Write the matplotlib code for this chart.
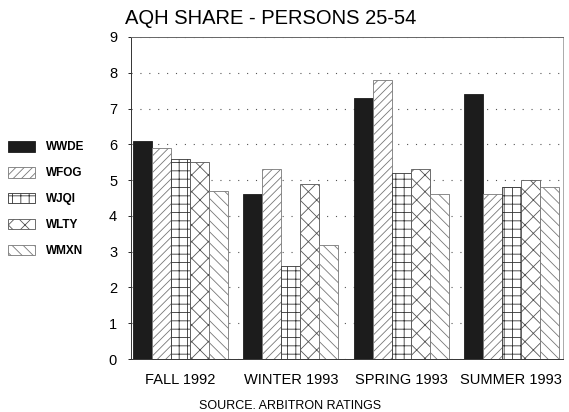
import matplotlib
matplotlib.use("Agg")
import matplotlib.pyplot as plt
import numpy as np
from matplotlib.patches import Patch

plt.rcParams['font.family'] = ['Liberation Sans', 'DejaVu Sans']
plt.rcParams['hatch.linewidth'] = 0.6

seasons = ["FALL 1992", "WINTER 1993", "SPRING 1993", "SUMMER 1993"]
stations = ["WWDE", "WFOG", "WJQI", "WLTY", "WMXN"]
wwde = [6.1, 4.6, 7.3, 7.4]
wfog = [5.9, 5.3, 7.8, 4.6]
wjqi = [5.6, 2.6, 5.2, 4.8]
wlty = [5.5, 4.9, 5.3, 5.0]
wmxn = [4.7, 3.2, 4.6, 4.8]
series = [wwde, wfog, wjqi, wlty, wmxn]
yticks = list(range(0, 10))

hatches = [None, '////', '++', 'xx', '\\\\\\']
faces = ['#1c1c1c', 'white', 'white', 'white', 'white']
hatch_colors = ['#1c1c1c', '#777777', '#333333', '#555555', '#777777']

fig = plt.figure(figsize=(5.69, 4.12), dpi=100)
ax = fig.add_axes([0.2302, 0.1286, 0.7593, 0.7816])

x = np.arange(len(seasons))
w = 0.172
for i, (vals, h, fc, hc) in enumerate(zip(series, hatches, faces, hatch_colors)):
    pos = x + (i - 2) * w
    ax.bar(pos, vals, width=w, color=fc, edgecolor=hc, hatch=h,
           linewidth=0.6, zorder=2)

ax.set_xlim(-0.449, 3.468)
ax.set_ylim(0, 9)
ax.set_yticks(yticks)
ax.set_yticklabels([str(t) for t in yticks], fontsize=10.5)
ax.set_xticks(x)
ax.set_xticklabels(seasons, fontsize=10.5)
ax.tick_params(axis='x', length=0, pad=10)
ax.tick_params(axis='y', length=2, direction='out', pad=8, width=0.6)

ax.yaxis.grid(True, linestyle=(0, (1, 7)), color='#555555', linewidth=0.8, zorder=0)
ax.set_axisbelow(True)
for s in ['left', 'bottom', 'top', 'right']:
    ax.spines[s].set_linewidth(0.7)
    ax.spines[s].set_color('#333333')
ax.spines['right'].set_color('#aaaaaa')
ax.spines['top'].set_color('#666666')

fig.text(125 / 569, 1 - 19 / 412, "AQH SHARE - PERSONS 25-54", fontsize=14.5,
         ha='left', va='center')
fig.text(290 / 569, 1 - 406 / 412, "SOURCE. ARBITRON RATINGS", fontsize=9,
         ha='center', va='center')

handles = [Patch(facecolor=fc, edgecolor=hc, hatch=h, linewidth=0.6)
           for h, fc, hc in zip(hatches, faces, hatch_colors)]
fig.legend(handles, stations, loc='center left', bbox_to_anchor=(0.004, 1 - 199 / 412),
           frameon=False, prop={'size': 8.5, 'weight': 'bold'},
           handlelength=2.3, handleheight=1.0,
           labelspacing=1.15, handletextpad=0.9, borderpad=0)

fig.savefig("out.png", dpi=100)
